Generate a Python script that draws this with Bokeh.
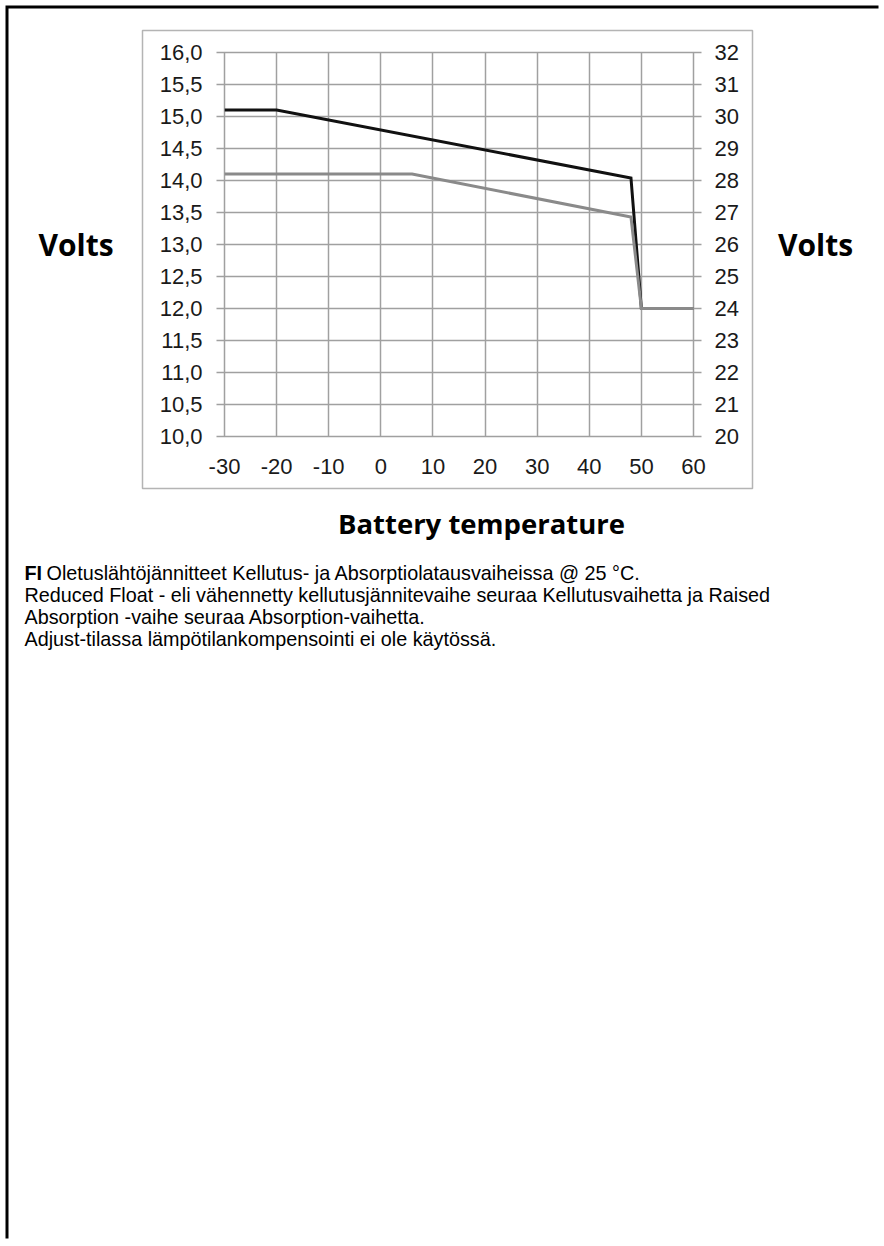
from bokeh.plotting import figure
from bokeh.models import (Range1d, LinearAxis, FixedTicker, CustomJSTickFormatter)
from bokeh.core.properties import value
from bokeh.embed import file_html
from bokeh.resources import INLINE

# ---------------- data ----------------
temperature_absorption = [-30, -20, 48, 50, 60]
volts_absorption = [15.10, 15.10, 14.04, 12.00, 12.00]
temperature_float = [-30, 6, 48, 50, 60]
volts_float = [14.10, 14.10, 13.43, 12.00, 12.00]

x_ticks = [-30, -20, -10, 0, 10, 20, 30, 40, 50, 60]
y_ticks_12v = [10.0, 10.5, 11.0, 11.5, 12.0, 12.5, 13.0, 13.5, 14.0, 14.5, 15.0, 15.5, 16.0]
y_ticks_24v = [20, 21, 22, 23, 24, 25, 26, 27, 28, 29, 30, 31, 32]

y_title = "Volts"
x_title = "Battery temperature"
note_lead = "FI"
note_lines = [
    "Oletuslähtöjännitteet Kellutus- ja Absorptiolatausvaiheissa @ 25 °C.",
    "Reduced Float - eli vähennetty kellutusjännitevaihe seuraa Kellutusvaihetta ja Raised",
    "Absorption -vaihe seuraa Absorption-vaihetta.",
    "Adjust-tilassa lämpötilankompensointi ei ole käytössä.",
]

# ---------------- layout (page pixels) ----------------
W, H = 880, 1240
FL, FT, FR, FB = 224, 52, 693, 436   # plot frame edges on page
X0, X1, Y0, Y1 = -30, 60, 10, 16

GRID = "#a0a0a0"
TICK_FONT = "Liberation Sans"
TITLE_FONT = "Open Sans"
TICK_SIZE = "22px"
NOTE_SIZE = "19.8px"

p = figure(width=W, height=H, x_range=Range1d(X0, X1), y_range=Range1d(Y0, Y1),
           output_backend="svg", toolbar_location=None,
           min_border_left=FL, min_border_top=FT,
           min_border_right=W - FR, min_border_bottom=H - FB)
p.background_fill_color = "white"
p.border_fill_color = "white"
p.outline_line_color = GRID
p.outline_line_width = 1.5

p.extra_y_ranges = {"v24": Range1d(20, 32)}

comma_fmt = CustomJSTickFormatter(code="return tick.toFixed(1).replace('.', ',');")
plain_fmt = CustomJSTickFormatter(code="return String(tick);")


def style_axis(ax, tick_out, standoff):
    ax.axis_line_color = None
    ax.major_tick_line_color = GRID if tick_out else None
    ax.major_tick_line_width = 1.5
    ax.major_tick_out = tick_out
    ax.major_tick_in = 0
    ax.minor_tick_line_color = None
    ax.major_label_text_font = TICK_FONT
    ax.major_label_text_font_size = TICK_SIZE
    ax.major_label_text_color = "#1a1a1a"
    ax.major_label_standoff = standoff


def style_title(ax, text, standoff):
    ax.axis_label = text
    ax.axis_label_orientation = "horizontal"
    ax.axis_label_text_font = TITLE_FONT
    ax.axis_label_text_font_style = "bold"
    ax.axis_label_text_font_size = "30px"
    ax.axis_label_text_color = "black"
    ax.axis_label_standoff = standoff


yl = p.yaxis[0]
yl.ticker = FixedTicker(ticks=y_ticks_12v)
yl.formatter = comma_fmt
style_axis(yl, 8, 14)
style_title(yl, y_title, 43)

xb = p.xaxis[0]
xb.ticker = FixedTicker(ticks=x_ticks)
xb.formatter = plain_fmt
style_axis(xb, 0, 22)

yr = LinearAxis(y_range_name="v24", ticker=FixedTicker(ticks=y_ticks_24v), formatter=plain_fmt)
style_axis(yr, 8, 13)
style_title(yr, y_title, 36)
p.add_layout(yr, "right")

p.xgrid.ticker = FixedTicker(ticks=x_ticks)
p.ygrid.ticker = FixedTicker(ticks=y_ticks_12v)
for g in (p.xgrid[0], p.ygrid[0]):
    g.grid_line_color = GRID
    g.grid_line_width = 1.5

p.line(temperature_absorption, volts_absorption, line_color="#111111", line_width=3,
       line_join="miter")
p.line(temperature_float, volts_float, line_color="#8a8a8a", line_width=3,
       line_join="miter")


# ---------------- decorations outside the frame ----------------
def dx(px):
    return X0 + (px - FL) * (X1 - X0) / (FR - FL)


def dy(py):
    return Y0 + (FB - py) * (Y1 - Y0) / (FB - FT)


# chart box
p.quad(left=[dx(142)], right=[dx(752)], top=[dy(30)], bottom=[dy(488)],
       fill_color=None, line_color="#b4b4b4", line_width=1.5, level="overlay")
# page frame (left + top edges), kept inside the canvas
p.line(x=[dx(6.5), dx(6.5), dx(W - 2)], y=[dy(H - 2), dy(6.5), dy(6.5)],
       line_color="black", line_width=3, line_join="miter", line_cap="butt",
       level="overlay")

# x axis title
p.text(x=[dx(481)], y=[dy(523)], text=[x_title], text_font=value(TITLE_FONT),
       text_font_style="bold", text_font_size="27.5px", text_align="center",
       text_baseline="middle", text_color="black", level="overlay")

# note text
p.text(x=[dx(24)], y=[dy(572)], text=[note_lead], text_font=value(TICK_FONT),
       text_font_style="bold", text_font_size=NOTE_SIZE, text_baseline="middle",
       text_color="black", level="overlay")
line_y = [572, 594, 616, 638]
line_x = [46, 24, 24, 24]
p.text(x=[dx(v) for v in line_x], y=[dy(v) for v in line_y], text=note_lines,
       text_font=value(TICK_FONT), text_font_size=NOTE_SIZE, text_baseline="middle",
       text_color="black", level="overlay")

open("out.html", "w").write(file_html(p, INLINE))
